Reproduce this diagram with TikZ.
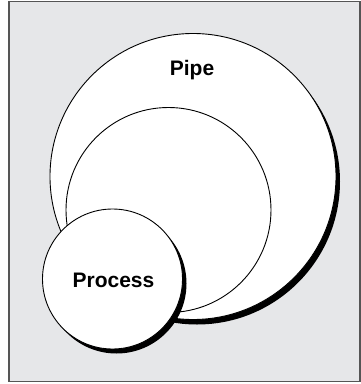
\documentclass[tikz,border=0pt]{standalone}
\usepackage{fontspec}
\setmainfont{Liberation Sans}
\definecolor{bggray}{RGB}{230,231,233}
\definecolor{framegray}{RGB}{85,85,85}
\begin{document}
\begin{tikzpicture}[x=1pt,y=-1pt,
  disc/.style={circle,draw=black,line width=0.9pt,fill=white,inner sep=0pt},
  shadowdisc/.style={circle,fill=black,draw=none,inner sep=0pt},
  lbl/.style={font=\bfseries\fontsize{21}{25}\selectfont,inner sep=0pt}]
\useasboundingbox (0,0) rectangle (361,384);
\fill[white] (0,0) rectangle (361,384);
\draw[fill=bggray,draw=framegray,line width=1.6pt] (9,1.5) rectangle (360,381.5);
% Pipe
\node[shadowdisc,minimum size=286pt] (pipeshadow) at (197,181.5) {};
\node[disc,minimum size=286pt] (pipe) at (193,176.5) {};
\node[disc,minimum size=205pt] (inner) at (168.5,210) {};
% Process
\node[shadowdisc,minimum size=140pt] (procshadow) at (116.5,283.5) {};
\node[disc,minimum size=140pt] (proc) at (112.5,279) {};
\node[lbl,anchor=base] (pipelbl) at (192,75) {Pipe};
\node[lbl,anchor=base] (proclbl) at (113.5,287.5) {Process};
\end{tikzpicture}
\end{document}
